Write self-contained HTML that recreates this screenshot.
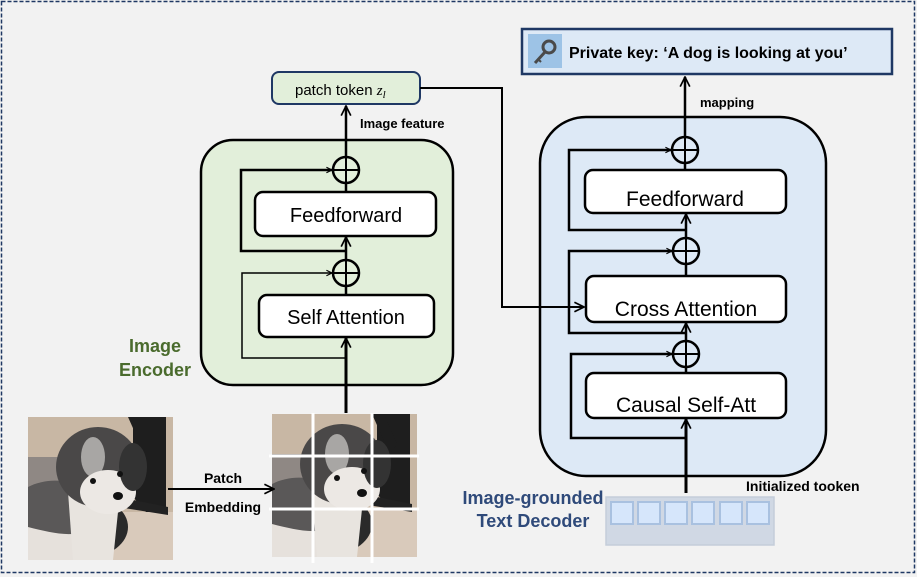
<!DOCTYPE html>
<html><head><meta charset="utf-8"><style>
html,body{margin:0;padding:0;background:#f2f2f2;}
svg{display:block;font-family:"Liberation Sans",Arial,sans-serif;}
</style></head><body>
<svg width="917" height="577" viewBox="0 0 917 577" xmlns="http://www.w3.org/2000/svg">
<defs>
<marker id="ar" viewBox="0 0 10 10" refX="9" refY="5" markerWidth="7" markerHeight="7" orient="auto" markerUnits="userSpaceOnUse">
<path d="M1,1 L9,5 L1,9" fill="none" stroke="#000" stroke-width="1.6"/></marker>
<marker id="ar2" viewBox="0 0 10 10" refX="9" refY="5" markerWidth="12" markerHeight="12" orient="auto" markerUnits="userSpaceOnUse">
<path d="M1,1 L9,5 L1,9" fill="none" stroke="#000" stroke-width="1.4"/></marker>
<g id="dog">
<rect x="0" y="0" width="145" height="143" fill="#c8b7a4"/>
<rect x="0" y="40" width="40" height="40" fill="#8f8884"/>
<path d="M60,95 L145,95 L145,143 L60,143Z" fill="#d9cabb"/>
<path d="M105,0 L138,0 L138,95 L118,95 L105,80Z" fill="#1e1e1e"/>
<path d="M100,0 L112,0 L125,30 L118,40Z" fill="#1e1e1e"/>
<path d="M90,80 L140,90 L140,98 L90,90Z" fill="#222"/>
<ellipse cx="60" cy="110" rx="40" ry="30" fill="#2a2a2a"/>
<path d="M0,70 C20,60 45,62 60,75 L60,143 L0,143Z" fill="#5a5858"/>
<path d="M0,110 C20,115 40,120 55,115 L60,143 L0,143Z" fill="#e6e1dc"/>
<path d="M40,75 C55,70 80,75 90,95 L85,143 L45,143Z" fill="#e8e4df"/>
<ellipse cx="70" cy="50" rx="42" ry="40" fill="#4a4848"/>
<ellipse cx="65" cy="40" rx="12" ry="20" fill="#a8a6a4"/>
<ellipse cx="80" cy="75" rx="28" ry="22" fill="#ece8e4"/>
<ellipse cx="105" cy="50" rx="14" ry="24" fill="#333"/>
<ellipse cx="90" cy="79" rx="5" ry="4" fill="#111"/>
<circle cx="65" cy="64" r="3" fill="#111"/><circle cx="92" cy="57" r="3" fill="#111"/>
</g>
</defs>
<rect x="1.5" y="1.5" width="913" height="571" fill="#f2f2f2" stroke="#1f3864" stroke-width="1.5" stroke-dasharray="4,2"/>

<!-- Encoder -->
<rect x="201" y="140" width="252" height="245" rx="32" fill="#e2efda" stroke="#000" stroke-width="2.5"/>
<text x="155" y="352" font-size="18" font-weight="bold" fill="#4a6b2d" text-anchor="middle">Image</text>
<text x="155" y="376" font-size="18" font-weight="bold" fill="#4a6b2d" text-anchor="middle">Encoder</text>
<rect x="272" y="72" width="148" height="32" rx="7" fill="#e2efda" stroke="#1f3864" stroke-width="2"/>
<text x="295" y="95" font-size="15" fill="#000">patch token <tspan font-family="Liberation Serif,serif" font-style="italic">z</tspan><tspan font-family="Liberation Serif,serif" font-style="italic" font-size="11" dy="3">l</tspan></text>
<text x="360" y="128" font-size="13" font-weight="bold">Image feature</text>
<line x1="346" y1="413" x2="346" y2="338" stroke="#000" stroke-width="3" marker-end="url(#ar2)"/>
<line x1="346" y1="295" x2="346" y2="285" stroke="#000" stroke-width="2.5"/>
<line x1="346" y1="259" x2="346" y2="237" stroke="#000" stroke-width="2.5" marker-end="url(#ar2)"/>
<line x1="346" y1="192" x2="346" y2="183" stroke="#000" stroke-width="2.5"/>
<line x1="346" y1="157" x2="346" y2="106" stroke="#000" stroke-width="2.5" marker-end="url(#ar2)"/>
<g fill="none" stroke="#000">
<circle cx="346" cy="170" r="13" stroke-width="2.5"/>
<path d="M333,170 H359 M346,157 V183" stroke-width="2"/>
<circle cx="346" cy="273" r="13" stroke-width="2.5"/>
<path d="M333,273 H359 M346,260 V286" stroke-width="2"/>
</g>
<polyline points="346,251 241,251 241,170 332,170" fill="none" stroke="#000" stroke-width="2.5" marker-end="url(#ar)"/>
<polyline points="346,358 242,358 242,273 332,273" fill="none" stroke="#000" stroke-width="1.5" marker-end="url(#ar)"/>
<rect x="255" y="192" width="181" height="44" rx="8" fill="#fff" stroke="#000" stroke-width="2.5"/>
<text x="346" y="222" font-size="20" text-anchor="middle">Feedforward</text>
<rect x="259" y="295" width="175" height="42" rx="8" fill="#fff" stroke="#000" stroke-width="2.5"/>
<text x="346" y="324" font-size="20" text-anchor="middle">Self Attention</text>

<!-- Decoder -->
<rect x="540" y="117" width="286" height="359" rx="46" fill="#dde9f6" stroke="#000" stroke-width="2.5"/>
<line x1="686" y1="493" x2="686" y2="419" stroke="#000" stroke-width="3" marker-end="url(#ar2)"/>
<line x1="686" y1="373" x2="686" y2="367" stroke="#000" stroke-width="2.5"/>
<line x1="686" y1="341" x2="686" y2="323" stroke="#000" stroke-width="2.5" marker-end="url(#ar2)"/>
<line x1="686" y1="276" x2="686" y2="264" stroke="#000" stroke-width="2.5"/>
<line x1="686" y1="238" x2="686" y2="214" stroke="#000" stroke-width="2.5" marker-end="url(#ar2)"/>
<line x1="685" y1="170" x2="685" y2="163" stroke="#000" stroke-width="2.5"/>
<line x1="685" y1="137" x2="685" y2="77" stroke="#000" stroke-width="2.5" marker-end="url(#ar2)"/>
<g fill="none" stroke="#000">
<circle cx="685" cy="150" r="13" stroke-width="2.5"/>
<path d="M672,150 H698 M685,137 V163" stroke-width="2"/>
<circle cx="686" cy="251" r="13" stroke-width="2.5"/>
<path d="M673,251 H699 M686,238 V264" stroke-width="2"/>
<circle cx="686" cy="354" r="13" stroke-width="2.5"/>
<path d="M673,354 H699 M686,341 V367" stroke-width="2"/>
</g>
<polyline points="686,230 569,230 569,150 671,150" fill="none" stroke="#000" stroke-width="2.5" marker-end="url(#ar)"/>
<polyline points="686,333 569,333 569,251 672,251" fill="none" stroke="#000" stroke-width="2.5" marker-end="url(#ar)"/>
<polyline points="686,438 571,438 571,354 672,354" fill="none" stroke="#000" stroke-width="2.5" marker-end="url(#ar)"/>
<!-- connector -->
<polyline points="420,88 502,88 502,307 584,307" fill="none" stroke="#000" stroke-width="2" marker-end="url(#ar2)"/>
<rect x="585" y="170" width="201" height="43" rx="8" fill="#fff" stroke="#000" stroke-width="2.5"/>
<text x="685" y="206" font-size="21" text-anchor="middle">Feedforward</text>
<rect x="586" y="276" width="200" height="46" rx="8" fill="#fff" stroke="#000" stroke-width="2.5"/>
<text x="686" y="316" font-size="21" text-anchor="middle">Cross Attention</text>
<rect x="586" y="373" width="200" height="45" rx="8" fill="#fff" stroke="#000" stroke-width="2.5"/>
<text x="686" y="412" font-size="21" text-anchor="middle">Causal Self-Att</text>
<text x="700" y="107" font-size="13" font-weight="bold">mapping</text>

<!-- private key -->
<rect x="522" y="29" width="370" height="45" fill="#dde9f6" stroke="#1f3864" stroke-width="2.5"/>
<rect x="528" y="34" width="34" height="34" fill="#9dc3e6"/>
<circle cx="549" cy="47" r="6" fill="none" stroke="#4a4a4a" stroke-width="3"/>
<line x1="545" y1="52" x2="535" y2="63" stroke="#4a4a4a" stroke-width="3"/>
<line x1="538" y1="59" x2="541" y2="62" stroke="#4a4a4a" stroke-width="2"/>
<text x="569" y="58" font-size="16" font-weight="bold">Private key: ‘A dog is looking at you’</text>

<!-- text decoder labels -->
<text x="533" y="504" font-size="18" font-weight="bold" fill="#2f4a7a" text-anchor="middle">Image-grounded</text>
<text x="533" y="527" font-size="18" font-weight="bold" fill="#2f4a7a" text-anchor="middle">Text Decoder</text>
<rect x="606" y="497" width="168" height="48" fill="#d0d8e4" stroke="#c4cdd9" stroke-width="1.5"/>
<g fill="#d6e6fb" stroke="#a9c1e0" stroke-width="2">
<rect x="611" y="502" width="22" height="22"/><rect x="638" y="502" width="22" height="22"/>
<rect x="665" y="502" width="22" height="22"/><rect x="692" y="502" width="22" height="22"/>
<rect x="720" y="502" width="22" height="22"/><rect x="747" y="502" width="22" height="22"/>
</g>
<text x="746" y="491" font-size="14" font-weight="bold">Initialized tooken</text>

<!-- images -->
<use href="#dog" x="28" y="417"/>
<use href="#dog" x="272" y="414"/>
<g stroke="#fff" stroke-width="3">
<line x1="313" y1="413" x2="313" y2="563"/><line x1="372" y1="413" x2="372" y2="563"/>
<line x1="269" y1="456" x2="419" y2="456"/><line x1="269" y1="509" x2="419" y2="509"/>
</g>
<line x1="168" y1="489" x2="274" y2="489" stroke="#000" stroke-width="2" marker-end="url(#ar2)"/>
<text x="223" y="483" font-size="14" font-weight="bold" text-anchor="middle">Patch</text>
<text x="223" y="512" font-size="14" font-weight="bold" text-anchor="middle">Embedding</text>
</svg>
</body></html>
